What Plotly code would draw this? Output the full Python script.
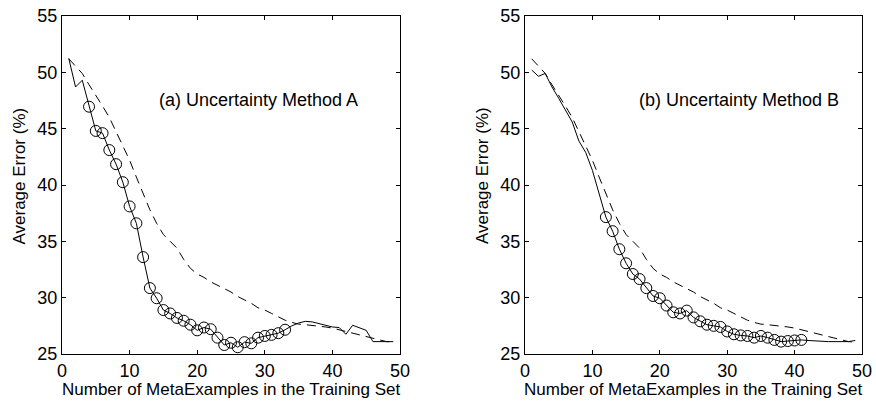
import plotly.graph_objects as go

# ---------------- data ----------------
n_examples = list(range(1, 50))

baseline_random = [
    51.2, 50.5, 49.9, 48.9, 48.0, 47.0, 46.0, 44.7, 43.4, 42.2,
    40.7, 39.2, 37.8, 36.6, 35.6, 35.0, 34.4, 33.4, 32.6, 32.1,
    31.8, 31.4, 31.1, 30.8, 30.5, 30.1, 29.8, 29.5, 29.1, 28.9,
    28.6, 28.3, 28.0, 27.8, 27.65, 27.6, 27.55, 27.45, 27.4, 27.3,
    27.15, 27.0, 26.85, 26.7, 26.5, 26.35, 26.2, 26.1, 26.05,
]

method_a = [
    51.25, 48.7, 49.3, 46.95, 44.8, 44.6, 43.1, 41.85, 40.25, 38.1,
    36.6, 33.6, 30.85, 29.95, 28.9, 28.6, 28.2, 27.95, 27.6, 27.1,
    27.35, 27.2, 26.45, 25.8, 26.0, 25.6, 26.05, 25.95, 26.45, 26.6,
    26.7, 26.85, 27.15, 27.5, 27.75, 27.9, 27.85, 27.7, 27.5, 27.4,
    27.35, 26.75, 27.55, 27.3, 27.1, 26.1, 26.1, 26.1, 26.1,
]

method_b = [
    50.2, 49.65, 49.9, 48.7, 47.7, 46.6, 45.6, 43.9, 42.9, 41.3,
    39.2, 37.15, 35.9, 34.3, 33.05, 32.1, 31.65, 30.85, 30.15, 29.95,
    29.3, 28.7, 28.6, 28.85, 28.25, 27.9, 27.6, 27.5, 27.4, 27.0,
    26.75, 26.65, 26.6, 26.45, 26.6, 26.45, 26.25, 26.1, 26.15, 26.2,
    26.25, 26.2, 26.15, 26.1, 26.1, 26.1, 26.1, 26.1, 26.2,
]

# range of training-set sizes drawn with circle markers
marked_a = (4, 33)
marked_b = (12, 41)

x_ticks = [0, 10, 20, 30, 40, 50]
y_ticks = [25, 30, 35, 40, 45, 50, 55]

panel_a_label = "(a) Uncertainty Method A"
panel_b_label = "(b) Uncertainty Method B"
x_title = "Number of MetaExamples in the Training Set"
y_title = "Average Error (%)"

# ---------------- figure ----------------
FONT = "Liberation Sans, Arial, sans-serif"
W, H = 876, 404

fig = go.Figure()

def add_panel(series, marked, xa, ya):
    fig.add_trace(go.Scatter(
        x=n_examples, y=baseline_random, mode="lines",
        line=dict(color="black", width=1, dash="9px,6px"),
        xaxis=xa, yaxis=ya, showlegend=False, hoverinfo="skip"))
    fig.add_trace(go.Scatter(
        x=n_examples, y=series, mode="lines",
        line=dict(color="black", width=1),
        xaxis=xa, yaxis=ya, showlegend=False))
    lo, hi = marked
    xs = [x for x in n_examples if lo <= x <= hi]
    ys = [series[x - 1] for x in xs]
    fig.add_trace(go.Scatter(
        x=xs, y=ys, mode="markers",
        marker=dict(symbol="circle-open", size=11, color="black",
                    line=dict(width=1, color="black")),
        xaxis=xa, yaxis=ya, showlegend=False))

add_panel(method_a, marked_a, "x", "y")
add_panel(method_b, marked_b, "x2", "y2")

def px_x(p):
    return p / W

def px_y(p):
    return 1 - p / H

y_dom = [px_y(354), px_y(16)]

axis_common = dict(
    showgrid=False, zeroline=False, showline=True, linecolor="black",
    linewidth=1, mirror="allticks", ticks="inside", ticklen=4,
    tickcolor="black", tickwidth=1, automargin=False,
    tickfont=dict(family=FONT, size=18, color="black"),
)

fig.update_layout(
    width=W, height=H,
    margin=dict(l=0, r=0, t=0, b=0, pad=0, autoexpand=False),
    paper_bgcolor="white", plot_bgcolor="white",
    font=dict(family=FONT, size=17, color="black"),
    xaxis=dict(domain=[px_x(62), px_x(400)], range=[0, 50],
               tickvals=x_ticks, anchor="y", **axis_common),
    yaxis=dict(domain=y_dom, range=[25, 55], tickvals=y_ticks,
               anchor="x", **axis_common),
    xaxis2=dict(domain=[px_x(525), px_x(862)], range=[0, 50],
                tickvals=x_ticks, anchor="y2", **axis_common),
    yaxis2=dict(domain=y_dom, range=[25, 55], tickvals=y_ticks,
                anchor="x2", **axis_common),
)

ann = []
ann.append(dict(text=panel_a_label, x=14.05, y=47.55, xref="x", yref="y",
                xanchor="left", yanchor="middle", showarrow=False,
                font=dict(family=FONT, size=18, color="black")))
ann.append(dict(text=panel_b_label, x=16.67, y=47.55, xref="x2", yref="y2",
                xanchor="left", yanchor="middle", showarrow=False,
                font=dict(family=FONT, size=18, color="black")))
for cx in (231, 693.5):
    ann.append(dict(text=x_title, x=px_x(cx), y=px_y(389), xref="paper",
                    yref="paper", xanchor="center", yanchor="middle",
                    showarrow=False,
                    font=dict(family=FONT, size=17, color="black")))
for cx in (19.5, 483):
    ann.append(dict(text=y_title, x=px_x(cx), y=px_y(176), xref="paper",
                    yref="paper", xanchor="center", yanchor="middle",
                    textangle=-90, showarrow=False,
                    font=dict(family=FONT, size=17, color="black")))
fig.update_layout(annotations=ann)

fig.write_html(
    "out.html",
    config={"displayModeBar": False},
    post_script="document.body.style.margin='0';"
                "document.body.style.overflow='hidden';",
)
